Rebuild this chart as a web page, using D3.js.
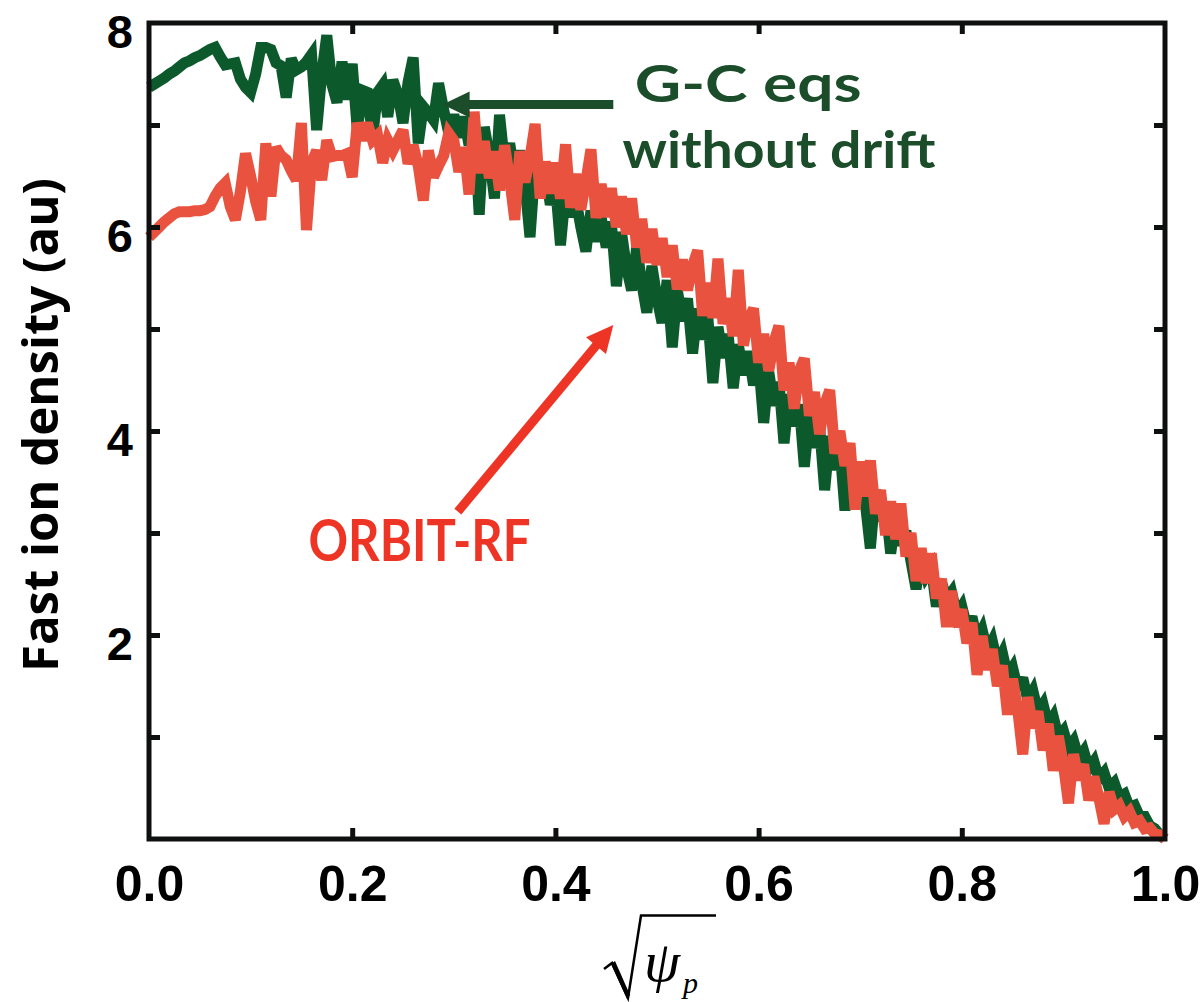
<!DOCTYPE html>
<html><head><meta charset="utf-8">
<script src="https://cdn.jsdelivr.net/npm/d3@7"></script>
<style>body{margin:0;background:#fff}svg{display:block}</style>
</head><body>
<svg id="c" width="1202" height="1002"></svg>
<script>
// ---- data (sampled uniformly on sqrt(psi_p) from 0 to 1, step 0.005) ----
const gcNoDrift = [
7.37,7.40,7.43,7.46,7.50,7.53,7.57,7.61,7.63,7.66,7.68,7.71,7.74,7.76,7.67,7.59,7.60,7.61,7.45,7.37,7.32,
7.50,7.76,7.76,7.74,7.61,7.58,7.27,7.65,7.54,7.57,7.62,7.69,6.95,7.50,7.88,7.40,7.22,7.62,7.25,7.60,
6.95,7.34,7.32,6.88,7.32,7.39,7.08,7.44,7.30,7.02,7.42,7.66,6.82,7.18,7.12,7.05,7.41,7.15,6.92,
7.10,6.88,7.08,6.80,7.02,6.12,6.98,6.70,6.28,7.10,
6.62,6.82,6.50,6.75,6.42,5.90,6.60,6.35,6.55,6.22,
6.42,5.82,6.35,6.10,6.28,6.00,5.76,6.16,5.86,6.10,
5.80,6.05,5.42,5.95,5.60,5.38,5.80,5.45,5.16,5.62,
5.30,5.06,5.48,4.82,5.38,5.08,5.30,4.76,5.20,4.90,
5.12,4.47,5.02,4.72,4.95,4.42,4.85,4.55,4.78,4.45,
4.68,4.08,4.58,4.25,4.48,3.88,4.36,4.05,4.26,3.65,
4.15,3.84,4.04,3.42,3.95,3.62,3.84,3.22,3.72,3.42,
3.62,3.30,2.85,3.42,3.12,3.28,2.80,3.15,2.88,3.02,
2.72,2.45,2.78,2.58,2.66,2.28,2.52,2.35,2.42,2.20,
2.28,2.08,2.18,1.95,2.05,1.84,1.94,1.72,1.82,1.60,
1.68,1.47,1.58,1.36,1.45,1.24,1.32,1.12,1.20,1.00,
1.06,0.89,0.96,0.79,0.86,0.69,0.76,0.59,0.65,0.50,
0.55,0.41,0.44,0.31,0.33,0.22,0.22,0.13,0.10,0.04,0.00];

const orbitRF = [
5.90,5.95,6.00,6.05,6.09,6.13,6.15,6.15,6.15,6.16,6.16,6.17,6.20,6.30,6.38,6.43,6.20,6.07,6.35,6.72,6.50,
6.25,6.07,6.82,6.30,6.78,6.70,6.66,6.55,6.46,7.02,5.97,6.63,6.75,6.46,6.85,6.69,6.70,6.70,6.72,6.49,
7.02,6.85,7.02,6.85,6.90,6.63,6.85,6.75,6.85,6.95,6.62,6.80,6.60,6.26,6.75,6.49,6.60,6.70,6.92,
6.85,6.54,6.78,6.32,7.13,6.53,6.84,6.48,6.74,6.36,
6.80,6.47,6.07,6.74,6.44,6.68,7.01,6.28,6.64,6.33,
6.63,6.28,6.81,6.19,6.52,6.17,6.45,6.76,6.09,6.42,
6.10,6.38,6.00,6.30,5.93,6.28,5.80,6.08,5.65,5.98,
5.63,5.89,5.51,5.82,5.39,5.68,5.38,5.62,5.77,5.13,
5.45,5.11,5.69,5.05,5.30,4.93,5.58,4.84,5.09,5.20,
4.67,4.95,4.59,4.87,5.03,4.40,4.67,4.22,4.59,4.71,
4.15,4.38,3.97,4.26,4.40,3.78,4.00,3.66,3.88,3.23,
3.70,3.36,3.71,3.19,3.42,2.98,3.31,2.94,3.29,2.77,
3.00,2.53,2.85,2.51,2.80,2.36,2.55,2.08,2.43,2.08,
2.25,1.92,2.12,1.61,1.99,1.66,1.86,1.50,1.70,1.22,
1.57,1.27,0.83,1.39,1.09,1.25,0.87,1.13,0.67,1.01,
0.73,0.35,0.83,0.58,0.73,0.38,0.61,0.40,0.15,0.46,
0.29,0.33,0.22,0.27,0.16,0.18,0.10,0.11,0.05,0.04,0.00];

const xTickLabels = [0, 0.2, 0.4, 0.6, 0.8, 1.0];
const xInnerTicks = [0.2, 0.4, 0.6, 0.8];
const yTickLabels = [2, 4, 6, 8];
const yInnerTicks = [1, 2, 3, 4, 5, 6, 7];

// ---- scales ----
const svg = d3.select('#c');
const x = d3.scaleLinear().domain([0, 1]).range([149, 1165]);
const y = d3.scaleLinear().domain([0, 8]).range([839, 23]);

const GREEN = '#0c5a2c', RED = '#e9523e', GTXT = '#1b4d2a', RTXT = '#ee3424', INK = '#0e100f';

const line = d3.line()
  .x((d, i, arr) => x(i / (arr.length - 1)))
  .y(d => y(d));

svg.append('path').datum(gcNoDrift).attr('d', line)
  .attr('fill', 'none').attr('stroke', GREEN).attr('stroke-width', 11)
  .attr('stroke-linejoin', 'miter').attr('stroke-miterlimit', 3);
svg.append('path').datum(orbitRF).attr('d', line)
  .attr('fill', 'none').attr('stroke', RED).attr('stroke-width', 11)
  .attr('stroke-linejoin', 'miter').attr('stroke-miterlimit', 3);

// ---- frame & ticks ----
svg.append('rect').attr('x', x(0)).attr('y', y(8))
  .attr('width', x(1) - x(0)).attr('height', y(0) - y(8))
  .attr('fill', 'none').attr('stroke', INK).attr('stroke-width', 5);

function inner(g) { g.select('.domain').remove(); g.selectAll('line').attr('stroke', INK).attr('stroke-width', 5); g.selectAll('text').remove(); }
svg.append('g').attr('transform', `translate(${x(0)},0)`).call(d3.axisLeft(y).tickValues(yInnerTicks).tickSize(-11)).call(inner);
svg.append('g').attr('transform', `translate(${x(1)},0)`).call(d3.axisRight(y).tickValues(yInnerTicks).tickSize(-11)).call(inner);
svg.append('g').attr('transform', `translate(0,${y(0)})`).call(d3.axisBottom(x).tickValues(xInnerTicks).tickSize(-11)).call(inner);
svg.append('g').attr('transform', `translate(0,${y(8)})`).call(d3.axisTop(x).tickValues(xInnerTicks).tickSize(-11)).call(inner);

// tick labels
const gx = svg.append('g').attr('transform', `translate(0,${y(0)})`)
  .call(d3.axisBottom(x).tickValues(xTickLabels).tickSize(0).tickPadding(26).tickFormat(d3.format('.1f')));
gx.select('.domain').remove();
gx.selectAll('text').attr('font-family', '"Liberation Sans", Arial, sans-serif')
  .attr('font-weight', 'bold').attr('font-size', 50).attr('fill', '#000');

const gy = svg.append('g').attr('transform', `translate(${x(0)},0)`)
  .call(d3.axisLeft(y).tickValues(yTickLabels).tickSize(0).tickPadding(16).tickFormat(d3.format('d')));
gy.select('.domain').remove();
gy.selectAll('text').attr('font-family', '"Liberation Sans", Arial, sans-serif')
  .attr('font-weight', 'bold').attr('font-size', 47).attr('fill', '#000').attr('dy', '0.52em');

// ---- axis titles ----
svg.append('text')
  .attr('transform', 'translate(58,425) rotate(-90)')
  .attr('text-anchor', 'middle')
  .attr('font-family', '"Open Sans", sans-serif').attr('font-weight', 'bold')
  .attr('font-size', 48).attr('fill', '#000')
  .attr('textLength', 494).attr('lengthAdjust', 'spacingAndGlyphs')
  .text('Fast ion density (au)');

// x title: radical sign drawn as a stroke, radicand as real text
const SERIF = '"Liberation Serif", "Times New Roman", serif';
svg.append('path')
  .attr('d', 'M604,969 L612,963 L628,998 L641,915.5 L716,915.5')
  .attr('fill', 'none').attr('stroke', '#000').attr('stroke-width', 2.5).attr('stroke-linejoin', 'miter');
svg.append('path')
  .attr('d', 'M611,964 L615,961 L630,995 L627,999 Z').attr('fill', '#000');
const xt = svg.append('text').attr('x', 644).attr('y', 981)
  .attr('font-family', SERIF).attr('font-style', 'italic').attr('fill', '#000');
xt.append('tspan').attr('font-size', 58).text('\u03C8');
xt.append('tspan').attr('font-size', 30).attr('dx', 3).attr('dy', 12).text('p');

// ---- annotations (positioned in data units) ----
function arrow(x1, y1, x2, y2, color, w, hl, hw) {
  const X1 = x(x1), Y1 = y(y1), X2 = x(x2), Y2 = y(y2);
  const a = Math.atan2(Y2 - Y1, X2 - X1);
  const bx = X2 - hl * Math.cos(a), by = Y2 - hl * Math.sin(a);
  svg.append('line').attr('x1', X1).attr('y1', Y1).attr('x2', bx + 2 * Math.cos(a)).attr('y2', by + 2 * Math.sin(a))
    .attr('stroke', color).attr('stroke-width', w);
  const px = -Math.sin(a), py = Math.cos(a);
  svg.append('polygon').attr('points', [[X2, Y2], [bx + hw * px, by + hw * py], [bx - hw * px, by - hw * py]].map(p => p.join(',')).join(' '))
    .attr('fill', color);
}
arrow(0.457, 7.20, 0.289, 7.20, GTXT, 9, 27, 13);
arrow(0.304, 3.21, 0.457, 5.04, RTXT, 9, 27, 13);

const annFont = 'Lato, "Open Sans", sans-serif';
svg.append('text').attr('x', x(0.478)).attr('y', y(7.23))
  .attr('font-family', annFont).attr('font-weight', 'bold').attr('font-size', 52).attr('fill', GTXT)
  .attr('textLength', 227).attr('lengthAdjust', 'spacingAndGlyphs').text('G-C eqs');
svg.append('text').attr('x', x(0.466)).attr('y', y(6.58))
  .attr('font-family', annFont).attr('font-weight', 'bold').attr('font-size', 52).attr('fill', GTXT)
  .attr('textLength', 313).attr('lengthAdjust', 'spacingAndGlyphs').text('without drift');
svg.append('text').attr('x', x(0.157)).attr('y', y(2.73))
  .attr('font-family', annFont).attr('font-weight', 'bold').attr('font-size', 57).attr('fill', RTXT)
  .attr('textLength', 222).attr('lengthAdjust', 'spacingAndGlyphs').text('ORBIT-RF');
</script>
</body></html>
